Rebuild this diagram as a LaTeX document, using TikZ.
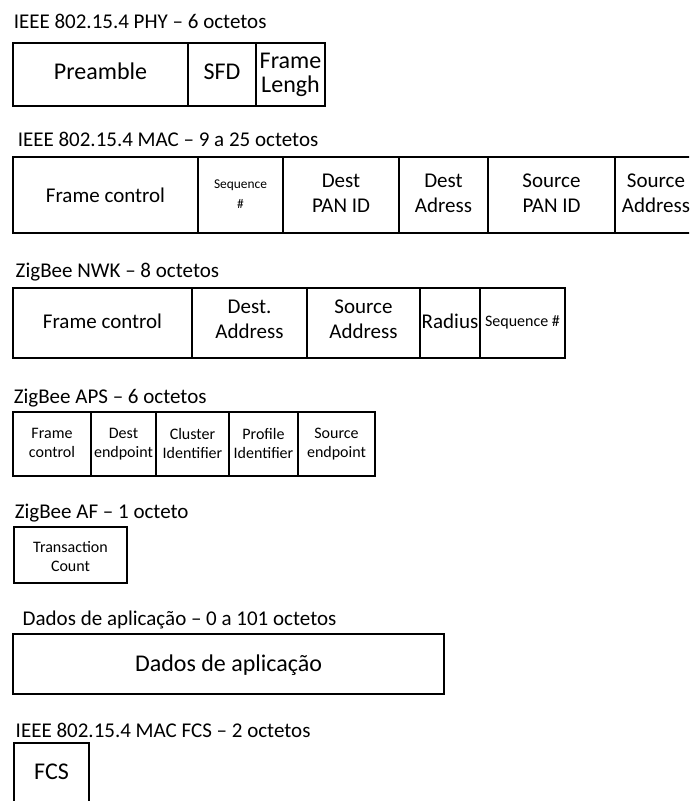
\documentclass[tikz,border=0pt]{standalone}
\usepackage{fontspec}
\setmainfont{Carlito}
\usepackage{tikz}

\begin{document}
\begin{tikzpicture}[x=1pt,y=-1pt,line width=1.5pt,
    ttl/.style={anchor=base west,inner sep=0pt,font=\fontsize{21}{25}\selectfont},
    fld/.style={align=center,inner sep=0pt,
      execute at begin node=\strut,execute at end node=\strut},
    fbig/.style={font=\fontsize{24}{24}\selectfont},
    fmid/.style={font=\fontsize{21}{25}\selectfont},
    fsml/.style={font=\fontsize{16}{19}\selectfont},
    fxs/.style={font=\fontsize{13.4}{20}\selectfont}]
  \useasboundingbox (0,0) rectangle (689,801);
  \clip (0,0) rectangle (689,801);

  \node[ttl] (phyttl) at (13,28) {IEEE 802.15.4 PHY -- 6 octetos};
  \foreach \lab/\xa/\xb/\yc [count=\i] in {
      Preamble/13/188/75, SFD/188/256/75, {Frame\\Lengh}/256/325/76} {
    \draw (\xa,43) rectangle (\xb,106);
    \node[fld,fbig] (phy\i) at ({(\xa+\xb)/2},\yc) {\lab};
  }

  \node[ttl] (macttl) at (17,146) {IEEE 802.15.4 MAC -- 9 a 25 octetos};
  \foreach \lab/\xa/\xb/\sty [count=\i] in {
      {Frame control}/13/198/fmid, {Sequence\\\#}/198/283/fxs,
      {Dest\\PAN ID}/283/399/fmid, {Dest\\Adress}/399/488/fmid,
      {Source\\PAN ID}/488/615/fmid, {Source\\Address}/615/697/fmid} {
    \draw (\xa,157) rectangle (\xb,233);
    \node[fld,\sty] (mac\i) at ({(\xa+\xb)/2},197) {\lab};
  }

  \node[ttl] (nwkttl) at (15,277) {ZigBee NWK -- 8 octetos};
  \foreach \lab/\xa/\xb/\sty [count=\i] in {
      {Frame control}/13/192/fmid, {Dest.\\Address}/192/307/fmid,
      {Source\\Address}/307/420/fmid, Radius/420/480/fmid,
      {Sequence \#}/480/565/fsml} {
    \draw (\xa,288) rectangle (\xb,358);
    \node[fld,\sty] (nwk\i) at ({(\xa+\xb)/2},323) {\lab};
  }

  \node[ttl] (apsttl) at (13,403) {ZigBee APS -- 6 octetos};
  \foreach \lab/\xa/\xb [count=\i] in {
      {Frame\\control}/13/91, {Dest\\endpoint}/91/156,
      {Cluster\\Identifier}/156/229, {Profile\\Identifier}/229/298,
      {Source\\endpoint}/298/375} {
    \draw (\xa,412) rectangle (\xb,476);
    \node[fld,fsml] (aps\i) at ({(\xa+\xb)/2},446) {\lab};
  }

  \node[ttl] (afttl) at (14,518) {ZigBee AF -- 1 octeto};
  \draw (14,527) rectangle (127,583);
  \node[fld,fsml] (af1) at (70.5,559) {Transaction\\Count};

  \node[ttl] (datttl) at (22,625) {Dados de aplicação -- 0 a 101 octetos};
  \draw (13,634) rectangle (444,694);
  \node[fld,fbig] (dat1) at (228.5,667) {Dados de aplicação};

  \node[ttl] (fcsttl) at (15,737) {IEEE 802.15.4 MAC FCS -- 2 octetos};
  \draw (14,743) rectangle (89,812);
  \node[fld,fbig] (fcs1) at (51.5,775) {FCS};
\end{tikzpicture}
\end{document}
